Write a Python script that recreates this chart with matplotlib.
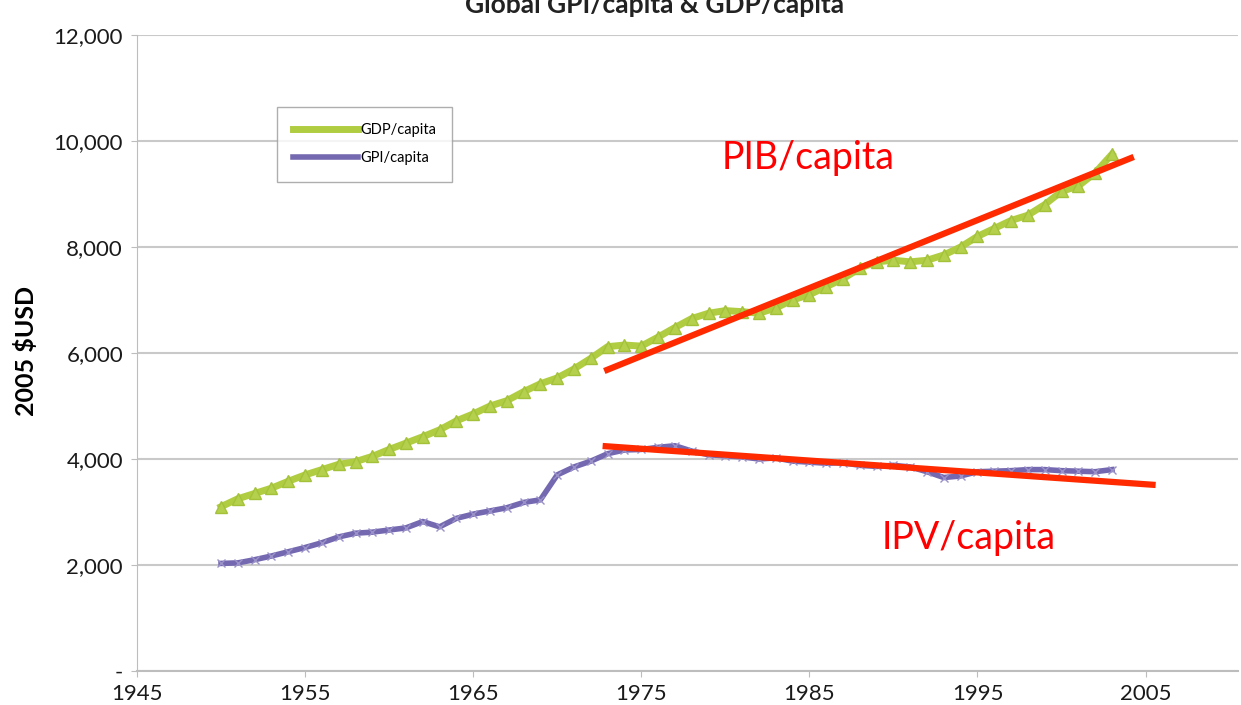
import matplotlib
matplotlib.use("Agg")
import matplotlib.pyplot as plt
from matplotlib.ticker import FuncFormatter

plt.rcParams['font.family'] = ['Lato', 'DejaVu Sans']

years = list(range(1950, 2004))
gdp_per_capita = [3100, 3250, 3350, 3450, 3580, 3700, 3800, 3900, 3950, 4050,
                  4180, 4300, 4420, 4550, 4720, 4850, 5000, 5100, 5270, 5420,
                  5530, 5700, 5900, 6120, 6150, 6130, 6300, 6480, 6650, 6750,
                  6800, 6780, 6750, 6850, 7000, 7100, 7250, 7400, 7600, 7720,
                  7750, 7720, 7750, 7850, 8000, 8200, 8350, 8500, 8600, 8800,
                  9050, 9150, 9400, 9750]
gpi_per_capita = [2030, 2040, 2100, 2170, 2250, 2330, 2420, 2530, 2600, 2620,
                  2660, 2700, 2820, 2720, 2880, 2960, 3020, 3080, 3180, 3230,
                  3700, 3850, 3960, 4100, 4170, 4180, 4220, 4250, 4150, 4080,
                  4060, 4040, 4000, 4020, 3960, 3940, 3920, 3930, 3880, 3860,
                  3880, 3850, 3760, 3650, 3680, 3760, 3770, 3780, 3800, 3800,
                  3780, 3770, 3760, 3800]

# hand-drawn trend lines (start/end in data units)
pib_trend_x = [1972.8, 2004.3]
pib_trend_y = [5660, 9700]
ipv_trend_x = [1972.7, 2005.6]
ipv_trend_y = [4245, 3510]

x_ticks = [1945, 1955, 1965, 1975, 1985, 1995, 2005]
y_ticks = [0, 2000, 4000, 6000, 8000, 10000, 12000]

fig = plt.figure(figsize=(12.41, 7.05), dpi=100)
fig.patch.set_facecolor('white')
ax = fig.add_axes([137/1241, 34/705, 1101/1241, 636/705])

ax.set_xlim(1945, 2010.5)
ax.set_ylim(0, 12000)
ax.set_yticks(y_ticks)
ax.set_xticks(x_ticks)
ax.yaxis.set_major_formatter(FuncFormatter(lambda v, p: '-' if v == 0 else f'{int(v):,}'))
ax.grid(axis='y', color='#c9c9c9', linewidth=1.5)
ax.set_axisbelow(True)
for s in ['top', 'right']:
    ax.spines[s].set_visible(False)
ax.spines['left'].set_color('#bdbdbd')
ax.spines['bottom'].set_color('#bdbdbd')
ax.spines['bottom'].set_linewidth(1.5)
ax.tick_params(axis='both', colors='#bdbdbd', labelcolor='#1a1a1a', labelsize=16, length=4)
ax.tick_params(axis='x', pad=5)
ax.tick_params(axis='y', pad=6)

ax.plot(years, gdp_per_capita, color='#b0cd42', linewidth=5, marker='^', markersize=9,
        markerfacecolor='#b5d04c', markeredgecolor='#a3c23a', label='GDP/capita')
ax.plot(years, gpi_per_capita, color='#7468b0', linewidth=4, marker='x', markersize=6,
        markeredgecolor='#9a92c8', markeredgewidth=1, label='GPI/capita')

ax.plot(pib_trend_x, pib_trend_y, color='#ff2a00', linewidth=4.5, solid_capstyle='butt')
ax.plot(ipv_trend_x, ipv_trend_y, color='#ff2a00', linewidth=4.5, solid_capstyle='butt')

ax.text(1984.9, 9680, 'PIB/capita', color='#ff0000', fontsize=27, ha='center', va='center')
ax.text(1994.5, 2500, 'IPV/capita', color='#ff0000', fontsize=27, ha='center', va='center')

leg = ax.legend(loc='upper left', bbox_to_anchor=(0.127, 0.887), fontsize=10.5,
                frameon=True, fancybox=False, edgecolor='#9a9a9a', handlelength=4.5,
                borderpad=1.1, labelspacing=1.0, handletextpad=0.1, borderaxespad=0)
leg.get_frame().set_linewidth(1.0)
for h in leg.legend_handles:
    h.set_marker('')

ax.set_ylabel('2005 $USD', fontsize=18, fontweight='bold')
ax.yaxis.set_label_coords(-0.09, 0.503)

fig.text(655/1241, 1 - 13/705, 'Global GPI/capita & GDP/capita', fontsize=19,
         fontweight='bold', ha='center', va='baseline', color='#222222')

fig.savefig('out.png', dpi=100)
